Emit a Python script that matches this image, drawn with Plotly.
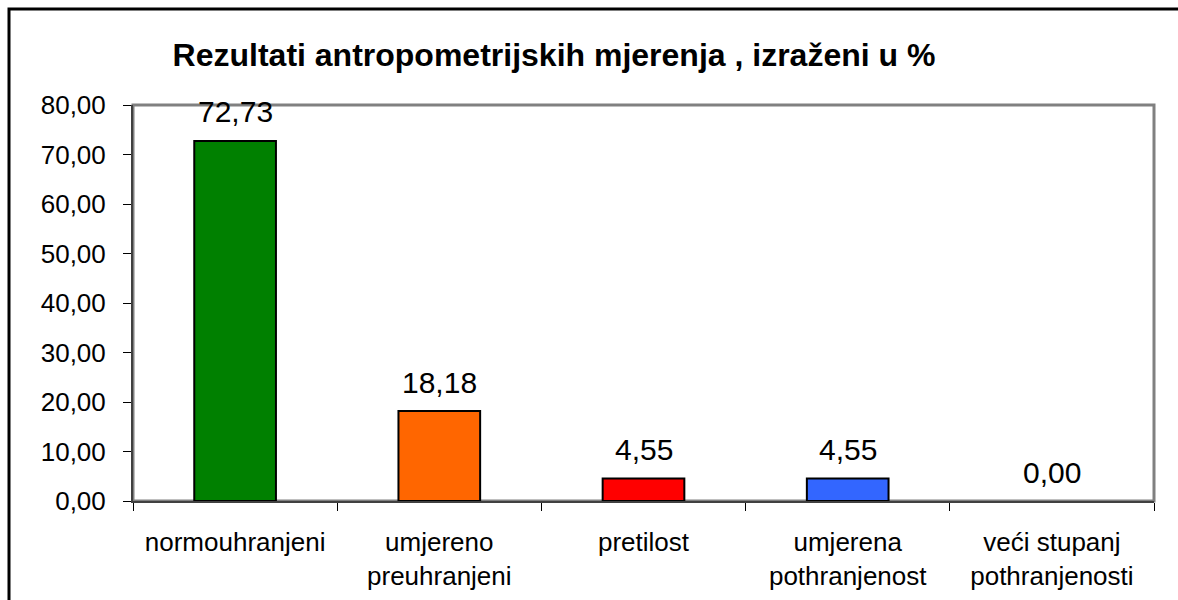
import plotly.graph_objects as go

categories = ["normouhranjeni", "umjereno<br>preuhranjeni", "pretilost",
              "umjerena<br>pothranjenost", "veći stupanj<br>pothranjenosti"]
values = [72.73, 18.18, 4.55, 4.55, 0.00]
colors = ["#008000", "#FF6600", "#FF0000", "#3366FF", "#808080"]
title_text = "Rezultati antropometrijskih mjerenja , izraženi u %"

W, H = 1178, 600
L, R, T, B = 133, 24, 105, 99
pw, ph = W - L - R, H - T - B

fig = go.Figure(go.Bar(
    x=categories, y=values,
    marker=dict(color=colors,
                line=dict(color="black", width=[2 if v > 0 else 0 for v in values])),
    width=0.4,
    cliponaxis=False,
))

annotations = [
    dict(x=c, y=v, xref="x", yref="y", text=f"{v:.2f}".replace(".", ","),
         showarrow=False, yanchor="middle", xanchor="center", yshift=29,
         font=dict(size=30, color="black"))
    for c, v in zip(categories, values)
]

def px_x(p):
    return (p - L) / pw

def px_y(p):
    return (H - B - p) / ph

fig.update_layout(
    width=W, height=H,
    margin=dict(l=L, r=R, t=T, b=B),
    paper_bgcolor="white", plot_bgcolor="white",
    separators=",.",
    font=dict(family="Liberation Sans, Arial, sans-serif", color="black"),
    showlegend=False,
    title=dict(text="<b>" + title_text + "</b>", font=dict(size=32),
               x=554 / W, xanchor="center",
               y=1 - 55 / H, yanchor="middle"),
    annotations=annotations,
    xaxis=dict(type="category", tickson="boundaries", ticks="outside",
               ticklen=8, tickcolor="black", tickwidth=1,
               showline=True, linecolor="#404040", linewidth=2,
               ticklabelstandoff=17, automargin=False,
               tickfont=dict(size=26), showgrid=False, range=[-0.5, 4.5]),
    yaxis=dict(range=[0, 80], dtick=10, tickformat=".2f", ticks="outside",
               ticklen=8, tickcolor="black", tickwidth=1,
               showline=True, linecolor="#404040", linewidth=2,
               ticklabelstandoff=12, automargin=False,
               tickfont=dict(size=26), showgrid=False, zeroline=False),
    shapes=[
        dict(type="rect", xref="paper", yref="paper",
             x0=0, x1=1, y0=0, y1=1, line=dict(color="#808080", width=3),
             layer="below"),
        dict(type="rect", xref="paper", yref="paper",
             x0=px_x(9), x1=px_x(1200), y0=px_y(9), y1=px_y(620),
             line=dict(color="black", width=3)),
    ],
)

fig.write_html("out.html", config={"displayModeBar": False},
               post_script="document.body.style.margin='0';")
